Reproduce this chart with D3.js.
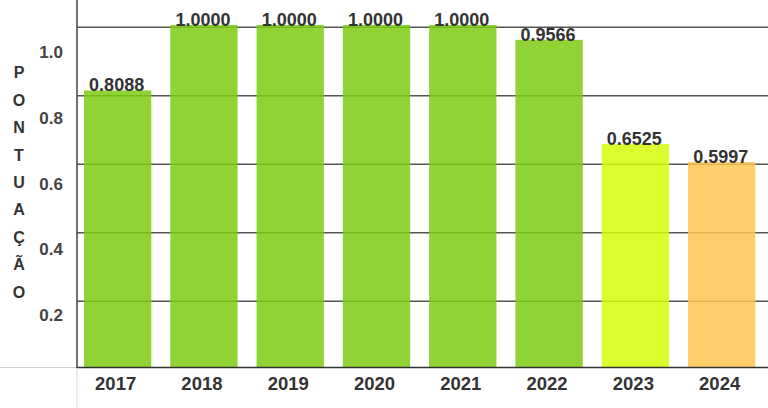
<!DOCTYPE html>
<html>
<head>
<meta charset="utf-8">
<script src="https://cdn.jsdelivr.net/npm/d3@7"></script>
<style>
  html, body { margin: 0; padding: 0; background: #fff; }
  svg { display: block; }
  text { font-family: "Liberation Sans", Arial, sans-serif; font-weight: bold; }
</style>
</head>
<body>
<svg id="chart" width="768" height="408"></svg>
<script>
// ---- data ----
const years = ["2017", "2018", "2019", "2020", "2021", "2022", "2023", "2024"];
const scores = [0.8088, 1.0000, 1.0000, 1.0000, 1.0000, 0.9566, 0.6525, 0.5997];
const tickValues = [0.2, 0.4, 0.6, 0.8, 1.0];
const tickLabels = ["0.2", "0.4", "0.6", "0.8", "1.0"];
const axisTitle = "PONTUAÇÃO";
const colorThresholds = [0.6, 0.7];

// ---- layout ----
const W = 768, H = 408;
const plotLeft = 77, plotRight = 768;
const svg = d3.select("#chart");

const x = d3.scaleBand().domain(years).range([plotLeft, 762.3]).paddingInner(0.22).paddingOuter(0.081);
const y = d3.scaleLinear().domain([0, 1]).range([367.4, 25]);
const yLabel = d3.scaleLinear().domain([0, 1]).range([380.75, 52]);
const color = d3.scaleThreshold().domain(colorThresholds).range(["#fdc550", "#d5fd09", "#7bcb10"]);

// light outer border lines
svg.append("line").attr("x1", 0).attr("x2", plotLeft).attr("y1", 367.5).attr("y2", 367.5)
  .attr("stroke", "#d0d0d0").attr("stroke-width", 1);
svg.append("line").attr("x1", plotLeft).attr("x2", plotLeft).attr("y1", 367).attr("y2", H)
  .attr("stroke", "#dcdcdc").attr("stroke-width", 1);

// gridlines (drawn beneath semi-transparent bars)
svg.append("g").selectAll("line").data(tickValues).join("line")
  .attr("x1", plotLeft).attr("x2", plotRight)
  .attr("y1", d => y(d) + 2.3).attr("y2", d => y(d) + 2.3)
  .attr("stroke", "#555").attr("stroke-width", 1.5);

// bars
svg.append("g").selectAll("rect").data(scores).join("rect")
  .attr("x", (d, i) => x(years[i]))
  .attr("width", x.bandwidth())
  .attr("y", d => y(d))
  .attr("height", d => y(0) - y(d))
  .attr("fill", d => color(d))
  .attr("fill-opacity", 0.85);

// axes lines
svg.append("line").attr("x1", plotLeft).attr("x2", plotLeft).attr("y1", 0).attr("y2", 368)
  .attr("stroke", "#444").attr("stroke-width", 1.5);
svg.append("line").attr("x1", plotLeft).attr("x2", plotRight).attr("y1", 367.5).attr("y2", 367.5)
  .attr("stroke", "#333").attr("stroke-width", 1.5);

// value labels
svg.append("g").selectAll("text").data(scores).join("text")
  .attr("x", (d, i) => x(years[i]) + x.bandwidth() / 2 - 1)
  .attr("y", d => y(d) + 1)
  .attr("text-anchor", "middle")
  .attr("font-size", 18)
  .attr("fill", "#333")
  .text(d => d.toFixed(4));

// y tick labels
svg.append("g").selectAll("text").data(tickValues).join("text")
  .attr("x", 63)
  .attr("y", d => yLabel(d) + 6)
  .attr("text-anchor", "end")
  .attr("font-size", 17)
  .attr("fill", "#444")
  .text((d, i) => tickLabels[i]);

// x labels
svg.append("g").selectAll("text").data(years).join("text")
  .attr("x", d => x(d) + x.bandwidth() / 2 - 2)
  .attr("y", 390)
  .attr("text-anchor", "middle")
  .attr("font-size", 18.5)
  .attr("fill", "#333")
  .text(d => d);

// vertical stacked axis title
svg.append("g").selectAll("text").data(Array.from(axisTitle)).join("text")
  .attr("x", 19)
  .attr("y", (d, i) => 78.3 + i * 27.4)
  .attr("text-anchor", "middle")
  .attr("font-size", 16)
  .attr("fill", "#333")
  .text(d => d);
</script>
</body>
</html>
